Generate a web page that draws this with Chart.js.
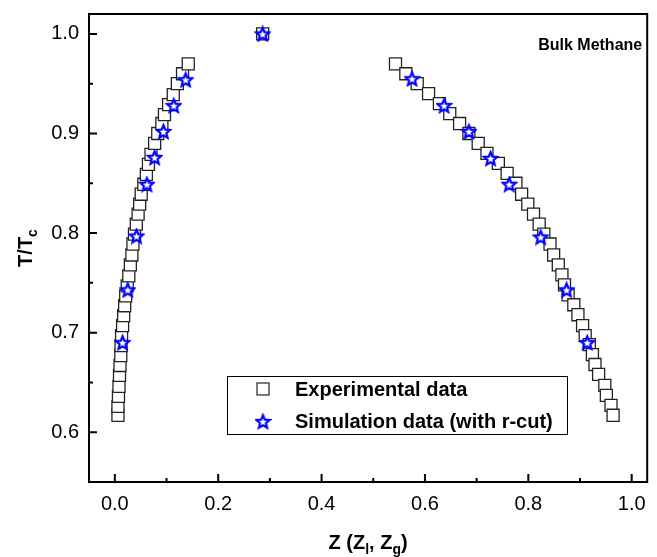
<!DOCTYPE html>
<html lang="en">
<head>
    <meta charset="UTF-8">
    <title>Bulk Methane coexistence</title>
    <script src="https://cdn.jsdelivr.net/npm/chart.js"></script>
    <style>
        body { margin: 0; background: #fff; }
        #wrap { width: 657px; height: 557px; }
    </style>
</head>
<body>
    <div id="wrap"><canvas id="myChart" width="657" height="557"></canvas></div>

    <script>
        // experimental data, liquid branch (Z_l) and gas branch (Z_g)
        const expT_liq = [0.617, 0.626, 0.636, 0.646, 0.657, 0.667, 0.677, 0.687, 0.697, 0.707, 0.717, 0.727, 0.737, 0.747, 0.757, 0.768, 0.778, 0.789, 0.799, 0.809, 0.819, 0.829, 0.839, 0.849, 0.859, 0.869, 0.879, 0.890, 0.900, 0.910, 0.919, 0.929, 0.939, 0.950, 0.960, 0.970, 1.000];
        const expZ_liq = [0.006, 0.006, 0.007, 0.008, 0.009, 0.010, 0.0115, 0.012, 0.013, 0.015, 0.017, 0.019, 0.021, 0.024, 0.027, 0.030, 0.033, 0.035, 0.038, 0.0415, 0.045, 0.048, 0.051, 0.056, 0.061, 0.065, 0.070, 0.077, 0.083, 0.091, 0.096, 0.104, 0.113, 0.121, 0.131, 0.142, 0.286];
        const expT_gas = [0.970, 0.960, 0.950, 0.940, 0.930, 0.920, 0.910, 0.900, 0.890, 0.880, 0.870, 0.860, 0.850, 0.839, 0.829, 0.819, 0.809, 0.799, 0.789, 0.778, 0.768, 0.758, 0.748, 0.738, 0.728, 0.718, 0.707, 0.697, 0.688, 0.678, 0.668, 0.658, 0.647, 0.637, 0.627, 0.617];
        const expZ_gas = [0.543, 0.563, 0.585, 0.607, 0.628, 0.648, 0.667, 0.685, 0.703, 0.720, 0.742, 0.759, 0.776, 0.787, 0.799, 0.810, 0.821, 0.830, 0.842, 0.849, 0.858, 0.865, 0.870, 0.877, 0.888, 0.896, 0.905, 0.910, 0.918, 0.924, 0.929, 0.936, 0.948, 0.951, 0.960, 0.964];

        // simulation data (with r-cut)
        const simT = [0.690, 0.743, 0.797, 0.849, 0.876, 0.902, 0.928, 0.954, 1.000, 0.955, 0.928, 0.902, 0.875, 0.849, 0.796, 0.743, 0.690];
        const simZ = [0.015, 0.025, 0.042, 0.062, 0.077, 0.094, 0.114, 0.137, 0.286, 0.575, 0.637, 0.685, 0.727, 0.763, 0.824, 0.874, 0.914];

        const xTicks = [0.0, 0.2, 0.4, 0.6, 0.8, 1.0];
        const xMinor = [0.1, 0.3, 0.5, 0.7, 0.9];
        const yTicks = [0.6, 0.7, 0.8, 0.9, 1.0];
        const yMinor = [0.65, 0.75, 0.85, 0.95];

        const FONT = '"Liberation Sans", Arial, sans-serif';

        // open blue star used as point marker
        function makeStar(size) {
            const c = document.createElement('canvas');
            c.width = size; c.height = size;
            const g = c.getContext('2d');
            const cx = size / 2, cy = size / 2 + 0.6;
            const R = size / 2 - 1.6, r = R * 0.45;
            g.beginPath();
            for (let i = 0; i < 10; i++) {
                const a = -Math.PI / 2 + i * Math.PI / 5;
                const rr = i % 2 === 0 ? R : r;
                g.lineTo(cx + rr * Math.cos(a), cy + rr * Math.sin(a));
            }
            g.closePath();
            g.fillStyle = '#ffffff';
            g.fill();
            g.lineWidth = 2.2;
            g.lineJoin = 'miter';
            g.strokeStyle = '#0000ff';
            g.stroke();
            return c;
        }
        const star = makeStar(17);

        const expData = [];
        expT_liq.forEach((t, i) => expData.push({ x: expZ_liq[i], y: t }));
        expT_gas.forEach((t, i) => expData.push({ x: expZ_gas[i], y: t }));
        const simData = simT.map((t, i) => ({ x: simZ[i], y: t }));

        // ticks pointing inward, box frame, axis titles, legend and label
        const decor = {
            id: 'decor',
            afterDraw(chart) {
                const ctx = chart.ctx;
                const a = chart.chartArea;
                const xs = chart.scales.x, ys = chart.scales.y;
                ctx.save();
                ctx.strokeStyle = '#000';
                ctx.lineWidth = 2;
                ctx.strokeRect(a.left, a.top, a.right - a.left, a.bottom - a.top);
                ctx.beginPath();
                xTicks.forEach(v => { const p = xs.getPixelForValue(v); ctx.moveTo(p, a.bottom); ctx.lineTo(p, a.bottom - 8); });
                xMinor.forEach(v => { const p = xs.getPixelForValue(v); ctx.moveTo(p, a.bottom); ctx.lineTo(p, a.bottom - 4); });
                yTicks.forEach(v => { const p = ys.getPixelForValue(v); ctx.moveTo(a.left, p); ctx.lineTo(a.left + 8, p); });
                yMinor.forEach(v => { const p = ys.getPixelForValue(v); ctx.moveTo(a.left, p); ctx.lineTo(a.left + 4, p); });
                ctx.stroke();

                ctx.fillStyle = '#000';
                // x title: Z (Z_l, Z_g)
                ctx.textBaseline = 'alphabetic';
                const big = 'bold 20px ' + FONT, small = 'bold 14px ' + FONT;
                const parts = [['Z (Z', 0], ['l', 1], [', Z', 0], ['g', 1], [')', 0]];
                let w = 0;
                parts.forEach(p => { ctx.font = p[1] ? small : big; w += ctx.measureText(p[0]).width; });
                let x = (a.left + a.right) / 2 - w / 2;
                const by = 549;
                parts.forEach(p => {
                    ctx.font = p[1] ? small : big;
                    ctx.fillText(p[0], x, p[1] ? by + 5 : by);
                    x += ctx.measureText(p[0]).width;
                });

                // y title: T/T_c
                ctx.save();
                ctx.translate(32, (a.top + a.bottom) / 2);
                ctx.rotate(-Math.PI / 2);
                ctx.font = big;
                const w1 = ctx.measureText('T/T').width;
                ctx.font = small;
                const w2 = ctx.measureText('c').width;
                const tx = -(w1 + w2) / 2;
                ctx.font = big;
                ctx.fillText('T/T', tx, 0);
                ctx.font = small;
                ctx.fillText('c', tx + w1, 5);
                ctx.restore();

                // Bulk Methane label
                ctx.font = 'bold 16px ' + FONT;
                ctx.textAlign = 'right';
                ctx.fillText('Bulk Methane', a.right - 5, 50);
                ctx.textAlign = 'left';

                // legend box
                const lx = 227, ly = 376, lw = 340, lh = 58;
                ctx.lineWidth = 1;
                ctx.strokeRect(lx + 0.5, ly + 0.5, lw, lh);
                ctx.lineWidth = 1.3;
                ctx.strokeStyle = '#333';
                ctx.fillStyle = '#fff';
                ctx.fillRect(257, 383, 12, 12);
                ctx.strokeRect(257, 383, 12, 12);
                ctx.drawImage(star, 254.5, 413);
                ctx.fillStyle = '#000';
                ctx.font = 'bold 20px ' + FONT;
                ctx.textBaseline = 'middle';
                ctx.fillText('Experimental data', 295, 390);
                ctx.fillText('Simulation data (with r-cut)', 295, 422);
                ctx.restore();
            }
        };

        const noPad = s => { s.paddingTop = 0; s.paddingBottom = 0; s.paddingLeft = 0; s.paddingRight = 0; };

        const ctx = document.getElementById('myChart').getContext('2d');
        const myChart = new Chart(ctx, {
            type: 'scatter',
            data: {
                datasets: [
                    {
                        label: 'Simulation data (with r-cut)',
                        data: simData,
                        pointStyle: star,
                        order: 0
                    },
                    {
                        label: 'Experimental data',
                        data: expData,
                        pointStyle: 'rect',
                        pointRadius: 8.5,
                        pointBorderWidth: 1.3,
                        pointBorderColor: '#222',
                        pointBackgroundColor: '#fff',
                        order: 1
                    }
                ]
            },
            options: {
                responsive: false,
                animation: false,
                events: [],
                layout: { padding: { top: 14, right: 5, left: 0, bottom: 0 } },
                scales: {
                    x: {
                        type: 'linear',
                        min: -0.05,
                        max: 1.03,
                        grid: { display: false, drawTicks: false },
                        border: { display: false },
                        afterBuildTicks: s => { s.ticks = xTicks.map(v => ({ value: v })); },
                        afterFit: s => { s.height = 75; noPad(s); },
                        ticks: {
                            padding: 10,
                            color: '#000',
                            font: { family: FONT, size: 20 },
                            callback: v => v.toFixed(1)
                        }
                    },
                    y: {
                        type: 'linear',
                        min: 0.55,
                        max: 1.02,
                        grid: { display: false, drawTicks: false },
                        border: { display: false },
                        afterBuildTicks: s => { s.ticks = yTicks.map(v => ({ value: v })); },
                        afterFit: s => { s.width = 89; noPad(s); },
                        ticks: {
                            padding: 10,
                            color: '#000',
                            font: { family: FONT, size: 20 },
                            callback: v => v.toFixed(1)
                        }
                    }
                },
                plugins: {
                    legend: { display: false },
                    tooltip: { enabled: false }
                }
            },
            plugins: [decor]
        });
    </script>
</body>
</html>
